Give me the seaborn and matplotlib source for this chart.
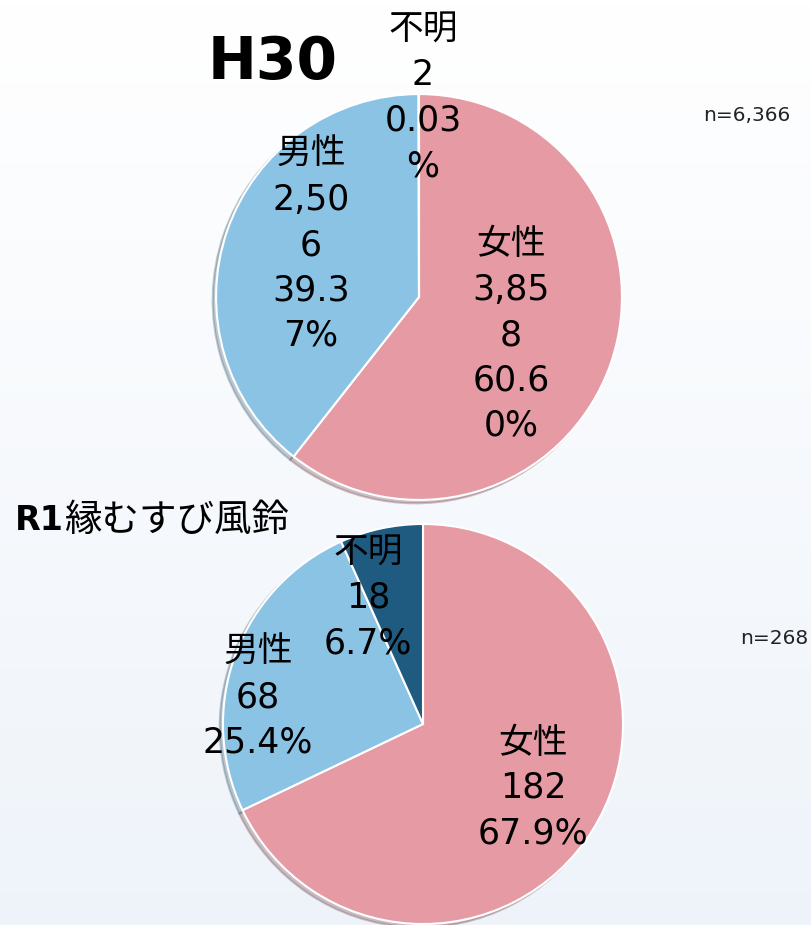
import numpy as np
import seaborn as sns
import matplotlib.pyplot as plt

# data
h30_labels = ["女性", "男性", "不明"]
h30_counts = [3858, 2506, 2]
h30_text = ["女性\n3,85\n8\n60.6\n0%", "男性\n2,50\n6\n39.3\n7%", "不明\n2\n0.03\n%"]
h30_n = "n=6,366"

r1_labels = ["女性", "男性", "不明"]
r1_counts = [182, 68, 18]
r1_text = ["女性\n182\n67.9%", "男性\n68\n25.4%", "不明\n18\n6.7%"]
r1_n = "n=268"

colors = ["#E59AA4", "#8BC3E5", "#1F5A80"]

sns.set_theme(style="white")
plt.rcParams["font.family"] = ["Noto Sans CJK JP", "DejaVu Sans"]

W, H = 812, 925
fig = plt.figure(figsize=(W / 100, H / 100), dpi=100)

# background gradient
bg = fig.add_axes([0, 0, 1, 1], zorder=-10)
grad = np.linspace(0, 1, 256).reshape(-1, 1)
bg.imshow(np.dstack([1 - 0.065 * grad, 1 - 0.045 * grad, 1 - 0.02 * grad]),
          aspect="auto", extent=[0, 1, 0, 1], origin="upper")
bg.axis("off")


def fx(px):
    return px / W


def fy(py):
    return 1 - py / H


def draw_pie(cx, cy, r, counts):
    ax = fig.add_axes([fx(cx - r), fy(cy + r), 2 * r / W, 2 * r / H])
    ax.pie(counts, colors=colors, startangle=90, counterclock=False,
           wedgeprops=dict(edgecolor="white", linewidth=1.5),
           shadow=dict(ox=-0.012, oy=-0.012, shade=0.45, alpha=0.35))
    ax.set_xlim(-1.02, 1.02)
    ax.set_ylim(-1.02, 1.02)
    ax.set_aspect("auto")
    ax.axis("off")
    return ax


draw_pie(419, 297, 207, h30_counts)
draw_pie(423, 724, 204, r1_counts)

# digits in DejaVu (wide, like the original), kanji from Noto CJK
lab_kw = dict(fontsize=25, ha="center", va="center", linespacing=1.42, color="black",
              family=["DejaVu Sans", "Noto Sans CJK JP"])

# H30 labels
fig.text(fx(511), fy(335), h30_text[0], **lab_kw)
fig.text(fx(311), fy(245), h30_text[1], **lab_kw)
fig.text(fx(423), fy(98), h30_text[2], **lab_kw)

# R1 labels
fig.text(fx(533), fy(788), r1_text[0], **lab_kw)
fig.text(fx(258), fy(697), r1_text[1], **lab_kw)
fig.text(fx(368), fy(598), r1_text[2], **lab_kw)

# titles
fig.text(fx(208), fy(62), "H30", fontsize=42, fontweight="bold", ha="left", va="center",
         color="black", family=["DejaVu Sans"])
fig.text(fx(15), fy(520), "R1", fontsize=24, fontweight="bold", ha="left", va="center",
         color="black", family=["DejaVu Sans"])
fig.text(fx(64), fy(520), "縁むすび風鈴", fontsize=27, ha="left", va="center", color="black")

fig.text(fx(790), fy(115), h30_n, fontsize=14.5, ha="right", va="center", color="#222222",
         family=["DejaVu Sans"])
fig.text(fx(808), fy(638), r1_n, fontsize=14.5, ha="right", va="center", color="#222222",
         family=["DejaVu Sans"])

fig.savefig("out.png", dpi=100)
